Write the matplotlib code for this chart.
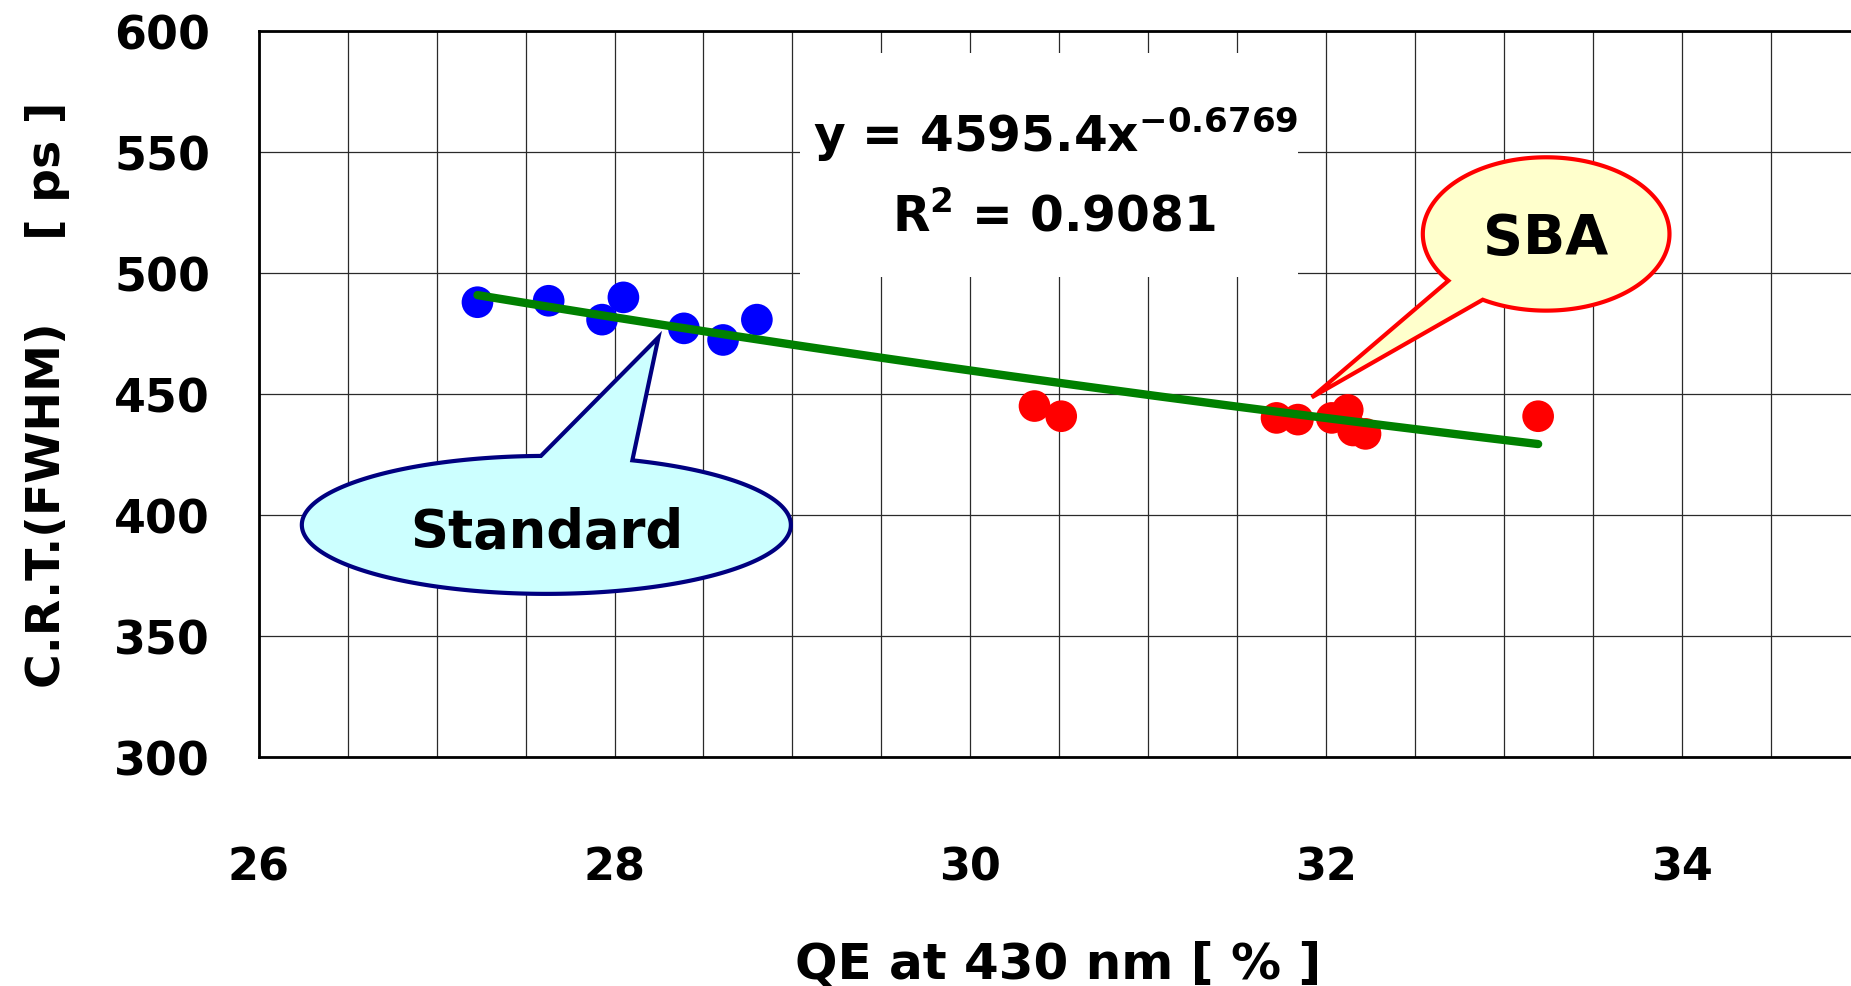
import numpy as np
import matplotlib
matplotlib.use("Agg")
import matplotlib.pyplot as plt
from matplotlib.patches import Polygon, Rectangle

plt.rcParams['font.family'] = ['DejaVu Sans']
plt.rcParams['font.weight'] = 'bold'
plt.rcParams['mathtext.default'] = 'bf'

# QE at 430 nm [%] vs coincidence resolving time [ps]
standard_qe = [27.23, 27.63, 27.93, 28.05, 28.39, 28.61, 28.80]
standard_crt = [487.9, 488.5, 480.7, 489.9, 477.1, 472.3, 480.7]

sba_qe = [30.36, 30.51, 31.72, 31.84, 32.03, 32.12, 32.15, 32.22, 33.19]
sba_crt = [445.0, 440.8, 440.1, 439.4, 440.1, 443.4, 434.9, 433.5, 440.8]

# power-law fit  y = a * x^b
fit_a = 4595.4
fit_b = -0.6769
fit_r2 = 0.9081

x_ticks = [26, 28, 30, 32, 34]
y_ticks = [300, 350, 400, 450, 500, 550, 600]


def callout(ax, cx, cy, w, h, base1, base2, tip, fc, ec, lw):
    """Ellipse speech bubble with a pointed tail, in data coordinates."""
    def ang(p):
        return np.arctan2((p[1] - cy) / (h / 2), (p[0] - cx) / (w / 2))

    t1, t2, tt = ang(base1), ang(base2), ang(tip)
    ccw = lambda a, b: (b - a) % (2 * np.pi)
    if ccw(t1, tt) > ccw(t1, t2):
        t1, t2 = t2, t1
    ts = t2 + np.linspace(0, ccw(t2, t1), 300)
    pts = np.column_stack([cx + w / 2 * np.cos(ts), cy + h / 2 * np.sin(ts)])
    pts = np.vstack([pts, tip])
    ax.add_patch(Polygon(pts, closed=True, facecolor=fc, edgecolor=ec,
                         linewidth=lw, joinstyle='miter', zorder=6))


fig = plt.figure(figsize=(18.51, 9.87), dpi=100)
ax = fig.add_axes([0.1397, 0.2320, 0.8653, 0.7357])

ax.set_xlim(26, 35)
ax.set_ylim(300, 600)
ax.set_xticks(x_ticks)
ax.set_yticks(y_ticks)
ax.set_xticks(np.arange(26, 35.01, 0.5), minor=True)
ax.grid(True, which='both', axis='x', color='#2a2a2a', linewidth=0.9, zorder=0)
ax.grid(True, which='major', axis='y', color='#2a2a2a', linewidth=0.9, zorder=0)
ax.set_axisbelow(True)
ax.tick_params(which='both', length=0)
ax.tick_params(axis='x', labelsize=32, pad=64)
ax.tick_params(axis='y', labelsize=33, pad=35)
for lbl in ax.get_xticklabels() + ax.get_yticklabels():
    lbl.set_fontweight('bold')

for side in ['left', 'bottom', 'top']:
    ax.spines[side].set_linewidth(2.0)
    ax.spines[side].set_color('black')
ax.spines['right'].set_visible(False)

ax.scatter(standard_qe, standard_crt, s=520, color='#0000FF', edgecolors='none', zorder=3)
ax.scatter(sba_qe, sba_crt, s=520, color='#FF0000', edgecolors='none', zorder=3)

all_qe = np.array(standard_qe + sba_qe)
fit_x = np.linspace(all_qe.min(), all_qe.max(), 200)
ax.plot(fit_x, fit_a * fit_x ** fit_b, color='#008000', linewidth=6,
        solid_capstyle='round', zorder=4)

# equation box
ax.add_patch(Rectangle((29.04, 498.3), 2.80, 92.6, facecolor='white',
                       edgecolor='none', zorder=2))
ax.text(30.48, 550.4, f"y = {fit_a}x$^{{{fit_b}}}$", fontsize=35, fontweight='bold',
        ha='center', va='baseline', zorder=5)
ax.text(30.47, 517.4, f"R$^2$ = {fit_r2}", fontsize=35, fontweight='bold',
        ha='center', va='baseline', zorder=5)

callout(ax, 27.617, 395.9, 2.748, 57.0, (27.586, 424.75), (28.097, 422.4),
        (28.247, 473.4), '#CCFFFF', '#000080', 3.0)
ax.text(27.62, 393.0, "Standard", fontsize=38, fontweight='bold',
        ha='center', va='center', zorder=7)

callout(ax, 33.235, 516.1, 1.386, 63.35, (32.686, 496.8), (32.877, 488.8),
        (31.918, 448.6), '#FFFFCC', '#FF0000', 3.0)
ax.text(33.23, 514.5, "SBA", fontsize=40, fontweight='bold',
        ha='center', va='center', zorder=7)

ax.set_xlabel("QE at 430 nm [ % ]", fontsize=36, fontweight='bold')
ax.xaxis.set_label_coords(0.499, -0.252)
ax.set_ylabel("C.R.T.(FWHM)     [ ps ]", fontsize=34, fontweight='bold')
ax.yaxis.set_label_coords(-0.118, 0.5)

fig.savefig("out.png", dpi=100)
